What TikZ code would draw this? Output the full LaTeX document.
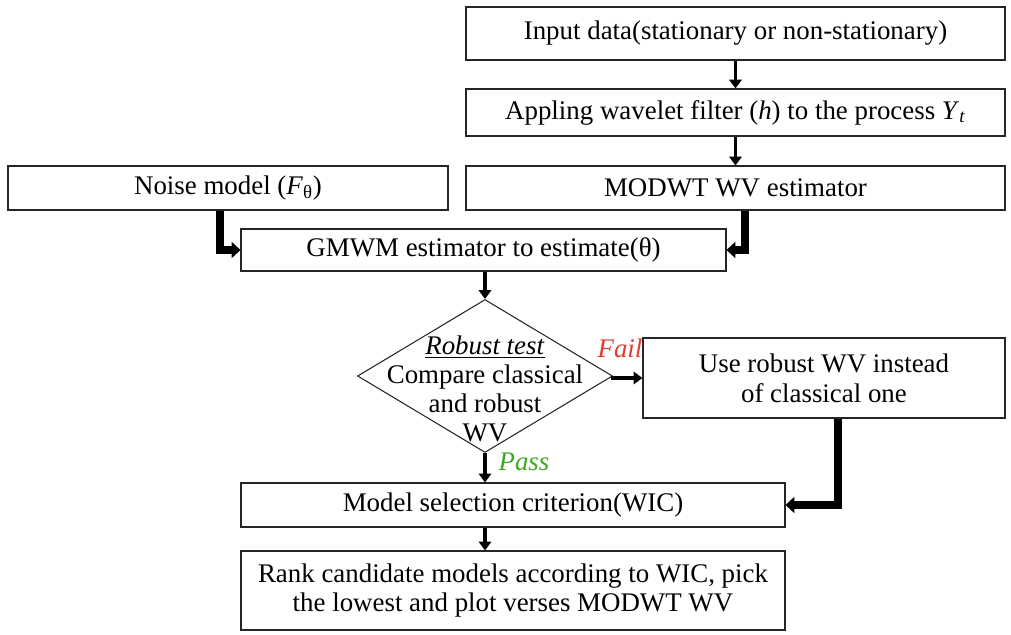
\documentclass[tikz,border=0pt]{standalone}
\usepackage{fontspec}
\setmainfont{Liberation Serif}
\usepackage{xcolor}
\usepackage{tikz}
\usetikzlibrary{shapes.geometric, arrows.meta, positioning, calc}
\definecolor{failred}{RGB}{228, 58, 48}
\definecolor{passgreen}{RGB}{62, 170, 30}

\begin{document}
\begin{tikzpicture}[
  box/.style={draw=black!85, line width=0.6pt, align=center, inner sep=2pt, font=\fontsize{15.3}{17}\selectfont},
  flow/.style={line width=2.2pt, -{Triangle[length=5pt, width=7pt]}},
  bigflow/.style={line width=4pt, -{Triangle[length=5pt, width=9pt]}},
]
  \useasboundingbox (0,0) rectangle (20.22,-12.7);

  \node[box, minimum width=10.78cm, minimum height=1.06cm] (input) at (14.71,-0.67) {Input data(stationary or non-stationary)};
  \node[box, minimum width=10.78cm, minimum height=0.94cm] (filter) at (14.71,-2.25) {Appling wavelet filter (\textit{h}) to the process \textit{Y}\textsubscript{\textit{t}}};
  \node[box, minimum width=10.78cm, minimum height=0.88cm] (modwt) at (14.71,-3.76) {MODWT WV estimator};
  \node[box, minimum width=8.8cm, minimum height=0.88cm] (noise) at (4.56,-3.76) {Noise model (\textit{F}\textsubscript{θ})};
  \node[box, minimum width=9.7cm, minimum height=0.84cm] (gmwm) at (9.67,-5.0) {GMWM estimator to estimate(θ)};

  % robust test
  \node[draw=black!85, line width=0.6pt, diamond, minimum width=5.1cm, minimum height=3.06cm, inner sep=0pt] (dia) at (9.7,-7.52) {};
  \node[align=center, font=\fontsize{15.3}{16.5}\selectfont] (diatext) at (9.7,-7.77) {\underline{\textit{Robust test}}\\Compare classical\\and robust\\WV};
  \node[box, minimum width=7.24cm, minimum height=1.6cm] (robust) at (16.48,-7.56) {Use robust WV instead\\of classical one};

  \node[box, minimum width=10.88cm, minimum height=0.88cm] (select) at (10.26,-10.1) {Model selection criterion(WIC)};
  \node[box, minimum width=10.88cm, minimum height=1.58cm] (rank) at (10.26,-11.81) {Rank candidate models according to WIC, pick\\the lowest and plot verses MODWT WV};

  % Arrows
  \draw[flow] (input.south) -- (filter.north);
  \draw[flow] (filter.south) -- (modwt.north);
  \draw[bigflow] (noise.south -| 4.4,0) |- (gmwm.west);
  \draw[bigflow] (modwt.south -| 14.9,0) |- (gmwm.east);
  \draw[flow] (gmwm.south -| dia.north) -- (dia.north);
  \draw[flow] (dia.east) -- (robust.west -| dia.east) -- (robust.west);
  \draw[flow] (dia.south) -- (select.north -| dia.south);
  \draw[bigflow] (robust.south -| 16.76,0) |- (select.east);
  \draw[flow] (select.south -| dia.south) -- (rank.north -| dia.south);

  % Labels
  \node[font=\fontsize{15.3}{17}\selectfont\itshape, color=failred] (fail) at (12.4,-6.96) {Fail};
  \node[font=\fontsize{15.3}{17}\selectfont\itshape, color=passgreen] (pass) at (10.48,-9.24) {Pass};
\end{tikzpicture}
\end{document}
